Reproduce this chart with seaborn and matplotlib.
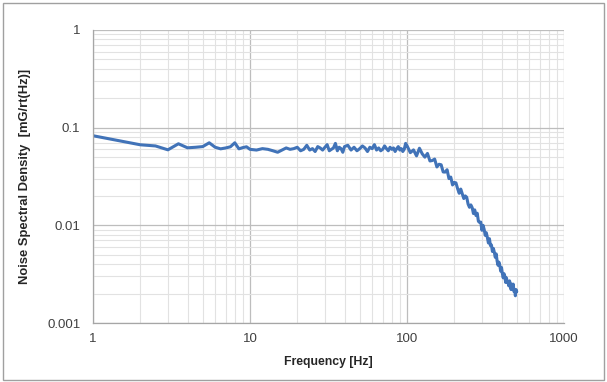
import numpy as np
import pandas as pd
import matplotlib
matplotlib.use("Agg")
import matplotlib.pyplot as plt
import matplotlib.ticker as mticker
from matplotlib.patches import Rectangle
import seaborn as sns

# -------------------------------
# Data
# -------------------------------
freq_low = [1, 2, 2.5, 3, 3.5, 4, 4.5, 5, 5.5, 6, 6.5, 7, 7.5, 8, 8.5, 9, 9.5]
nsd_low = [0.0827, 0.0668, 0.0650, 0.0593, 0.0684, 0.0622, 0.0630, 0.0640, 0.0700,
           0.0630, 0.0607, 0.0620, 0.0637, 0.0700, 0.0607, 0.0625, 0.0637]

freq_mid = [10, 11, 12, 13, 14, 15, 16, 17, 18, 19, 20, 21, 22, 23, 24, 25, 26, 27, 28, 29,
            30, 31, 32, 33, 34, 35, 36, 37, 38, 39, 40, 42, 44, 46, 48, 50, 52, 54, 56, 58,
            60, 62, 64, 66, 68, 70, 72, 74, 76, 78, 80, 82, 84, 86, 88, 90, 92, 94, 96, 98]
nsd_mid = [0.060, 0.059, 0.061, 0.060, 0.058, 0.056, 0.059, 0.062, 0.060, 0.061,
           0.063, 0.058, 0.060, 0.066, 0.059, 0.061, 0.057, 0.064, 0.062, 0.059,
           0.063, 0.067, 0.058, 0.060, 0.062, 0.069, 0.058, 0.063, 0.061, 0.056,
           0.064, 0.066, 0.059, 0.063, 0.058, 0.061, 0.065, 0.062, 0.057, 0.063,
           0.061, 0.067, 0.059, 0.062, 0.058, 0.060, 0.065, 0.061, 0.058, 0.063,
           0.060, 0.062, 0.057, 0.061, 0.064, 0.059, 0.061, 0.057, 0.060, 0.069]

freq_high = [100, 105, 110, 115, 120, 125, 130, 135, 140, 145, 150, 155, 160, 165, 170,
             175, 180, 185, 190, 195, 200, 205, 210, 215, 220, 225, 230, 235, 240, 245,
             250, 255, 260, 265, 270, 275, 280, 285, 290, 295, 300, 305, 310, 315, 320,
             325, 330, 335, 340, 345, 350, 355, 360, 365, 370, 375, 380, 385, 390, 395,
             400, 405, 410, 415, 420, 425, 430, 435, 440, 445, 450, 455, 460, 465, 470,
             475, 480, 485, 490, 495, 500]
nsd_high = [0.0654, 0.0555, 0.0592, 0.0514, 0.0616, 0.0540, 0.0499, 0.0545, 0.0456, 0.0461,
            0.0477, 0.0396, 0.0422, 0.0417, 0.0352, 0.0351, 0.0371, 0.0301, 0.0312, 0.0259,
            0.0275, 0.0272, 0.0238, 0.0213, 0.0235, 0.0210, 0.0188, 0.0200, 0.0194, 0.0165,
            0.0153, 0.0162, 0.0152, 0.0132, 0.0144, 0.0126, 0.0133, 0.0110, 0.0107, 0.0108,
            0.0089, 0.0100, 0.0091, 0.0079, 0.0084, 0.0075, 0.0066, 0.0073, 0.0062, 0.0063,
            0.0054, 0.0058, 0.0053, 0.0047, 0.0051, 0.0043, 0.0039, 0.0042, 0.0039, 0.0034,
            0.0037, 0.0032, 0.0029, 0.0032, 0.0030, 0.0026, 0.0029, 0.0026, 0.0026, 0.0024,
            0.0027, 0.0025, 0.0022, 0.0025, 0.0022, 0.0025, 0.0021, 0.0022, 0.0019, 0.0022,
            0.0021]

x_ticks = [1, 10, 100, 1000]
x_tick_labels = ["1", "10", "100", "1000"]
y_ticks = [0.001, 0.01, 0.1, 1]
y_tick_labels = ["0.001", "0.01", "0.1", "1"]

df = pd.DataFrame({
    "freq": freq_low + freq_mid + freq_high,
    "nsd": nsd_low + nsd_mid + nsd_high,
})

# -------------------------------
# Plot
# -------------------------------
sns.set_theme(style="white")
plt.rcParams["font.family"] = ["Liberation Sans", "DejaVu Sans"]

fig = plt.figure(figsize=(6.07, 3.82), dpi=100)
ax = fig.add_axes([93 / 607, 59 / 382, 471 / 607, 293 / 382])

sns.lineplot(data=df, x="freq", y="nsd", ax=ax, color="#4173b8", linewidth=2.2,
             sort=False, estimator=None)

ax.set_xscale("log")
ax.set_yscale("log")
ax.set_xlim(1, 1000)
ax.set_ylim(0.001, 1)

ax.xaxis.set_major_locator(mticker.FixedLocator(x_ticks))
ax.xaxis.set_major_formatter(mticker.FixedFormatter(x_tick_labels))
ax.yaxis.set_major_locator(mticker.FixedLocator(y_ticks))
ax.yaxis.set_major_formatter(mticker.FixedFormatter(y_tick_labels))
for axis in (ax.xaxis, ax.yaxis):
    axis.set_minor_locator(mticker.LogLocator(base=10, subs=np.arange(2, 10)))
    axis.set_minor_formatter(mticker.NullFormatter())

ax.grid(which="major", color="#bdbdbd", linewidth=0.9)
ax.grid(which="minor", color="#e2e2e2", linewidth=0.8)
ax.set_axisbelow(True)

ax.tick_params(axis="x", which="both", length=0, pad=7, labelsize=9.5, labelcolor="#404040")
ax.tick_params(axis="y", which="both", length=0, pad=9, labelsize=9.5, labelcolor="#404040")

for side in ["top", "right"]:
    ax.spines[side].set_visible(False)
for side in ["left", "bottom"]:
    ax.spines[side].set_color("#a6a6a6")
    ax.spines[side].set_linewidth(0.9)

ax.set_xlabel("Frequency [Hz]", fontsize=8.8, fontweight="bold", color="#262626", labelpad=8)
ax.set_ylabel("Noise Spectral Density  [mG/rt(Hz)]", fontsize=9.4, fontweight="bold",
              color="#262626", labelpad=12)

# chart frame
fig.patches.append(Rectangle((3 / 607, 2 / 382), 601 / 607, 377 / 382, transform=fig.transFigure,
                             fill=False, edgecolor="#a0a0a0", linewidth=1.0))

fig.savefig("out.png", dpi=100)
